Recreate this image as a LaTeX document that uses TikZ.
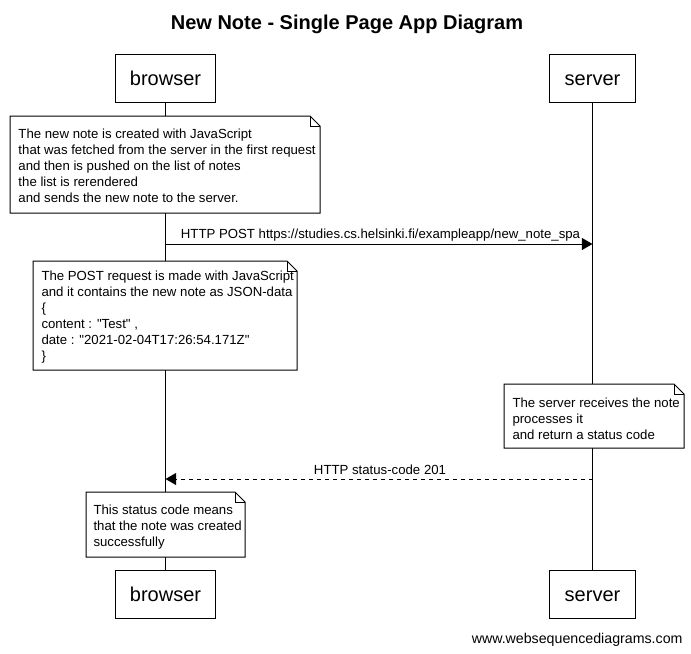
\documentclass[tikz,border=0pt]{standalone}
\usepackage{fontspec}
\setmainfont{Liberation Sans}[Ligatures=TeXOff]
\usetikzlibrary{arrows.meta}
\begin{document}
\begin{tikzpicture}[x=0.75pt,y=-0.75pt,line width=0.75pt,
  actor/.style={draw,fill=white,inner sep=0pt,minimum height=36pt,text height=12.5pt,text depth=2.5pt,font=\fontsize{15}{18}\selectfont},
  notetext/.style={anchor=north west,inner sep=0pt,align=left,font=\fontsize{9.9}{12}\selectfont},
  notebox/.style={draw,fill=white},
  msg/.style={-{Triangle[length=8pt,width=9pt]}},
  reply/.style={-{Triangle[length=8pt,width=9pt]},dash pattern=on 3pt off 3pt},
  lbl/.style={inner sep=0pt,anchor=base,font=\fontsize{9.9}{12}\selectfont}]
\useasboundingbox (0,0) rectangle (691,653);
% title
\node[inner sep=0pt,anchor=base,font=\fontsize{15}{18}\selectfont\bfseries] (title) at (347,29) {New Note - Single Page App Diagram};
% participants
\node[actor,minimum width=74.5pt] (btop) at (165.5,78.5) {browser};
\node[actor,minimum width=64pt] (stop) at (592.5,78.5) {server};
\node[actor,minimum width=74.5pt] (bbot) at (165.5,594.5) {browser};
\node[actor,minimum width=64pt] (sbot) at (592.5,594.5) {server};
% lifelines
\draw (btop.south) -- (bbot.north);
\draw (stop.south) -- (sbot.north);
% note 1
\draw[notebox] (10,116) -- (310,116) -- (320,126) -- (320,213) -- (10,213) -- cycle;
\draw (310,116) -- (310,126) -- (320,126);
\node[notetext] (n1) at (18,128) {The new note is created with JavaScript\\that was fetched from the server in the first request\\and then is pushed on the list of notes\\the list is rerendered\\and sends the new note to the server.};
% message 1
\coordinate (m1b) at (btop.south |- 0,244);
\coordinate (m1s) at (stop.south |- 0,244);
\draw[msg] (m1b) -- (m1s);
\node[lbl] (l1) at (380.5,238.5) {HTTP POST https://studies.cs.helsinki.fi/exampleapp/new\_note\_spa};
% note 2
\draw[notebox] (33,261) -- (287,261) -- (297,271) -- (297,370) -- (33,370) -- cycle;
\draw (287,261) -- (287,271) -- (297,271);
\node[notetext] (n2) at (41,270) {The POST request is made with JavaScript\\and it contains the new note as JSON-data\\\{\\content : "Test" ,\\date : "2021-02-04T17:26:54.171Z"\\\}};
% note 3
\draw[notebox] (504,384) -- (674,384) -- (684,394) -- (684,448) -- (504,448) -- cycle;
\draw (674,384) -- (674,394) -- (684,394);
\node[notetext] (n3) at (512,397) {The server receives the note\\processes it\\and return a status code};
% message 2
\coordinate (m2b) at (btop.south |- 0,479);
\coordinate (m2s) at (stop.south |- 0,479);
\draw[reply] (m2s) -- (m2b);
\node[lbl] (l2) at (380,474) {HTTP status-code 201};
% note 4
\draw[notebox] (86,492) -- (235,492) -- (245,502) -- (245,557) -- (86,557) -- cycle;
\draw (235,492) -- (235,502) -- (245,502);
\node[notetext] (n4) at (93,504) {This status code means\\that the note was created\\successfully};
% footer
\node[inner sep=0pt,anchor=base east,font=\fontsize{10.65}{12}\selectfont] (foot) at (683,643) {www.websequencediagrams.com};
\end{tikzpicture}
\end{document}
